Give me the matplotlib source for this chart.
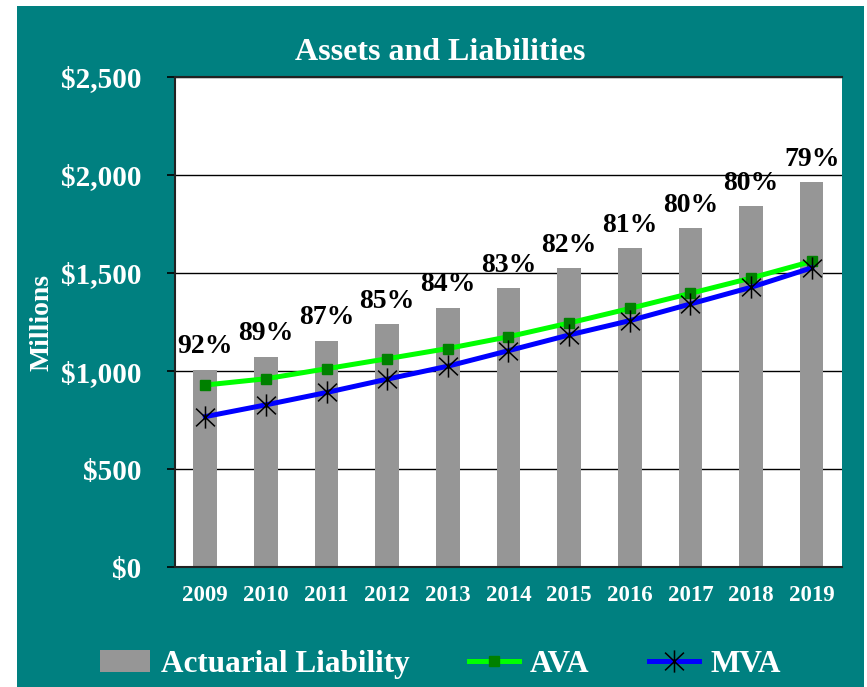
import matplotlib
matplotlib.use("Agg")
import matplotlib.pyplot as plt
import numpy as np
from matplotlib.patches import Rectangle
from matplotlib.path import Path

plt.rcParams["font.family"] = "Liberation Serif"
plt.rcParams["font.weight"] = "bold"

# Data (millions)
years = ["2009", "2010", "2011", "2012", "2013", "2014", "2015", "2016", "2017", "2018", "2019"]
liability = [1005, 1073, 1155, 1238, 1324, 1421, 1523, 1625, 1727, 1840, 1962]
ava = [929, 961, 1012, 1063, 1115, 1175, 1245, 1319, 1396, 1474, 1559]
mva = [768, 828, 891, 959, 1025, 1104, 1184, 1257, 1342, 1427, 1526]
funded = ["92%", "89%", "87%", "85%", "84%", "83%", "82%", "81%", "80%", "80%", "79%"]
y_ticks = [0, 500, 1000, 1500, 2000, 2500]

teal = "#008080"
x = np.arange(len(years))

# Excel-style asterisk: vertical stroke plus an X
star = Path([(0, -1), (0, 1), (-0.85, -0.8), (0.85, 0.8), (-0.85, 0.8), (0.85, -0.8)],
            [Path.MOVETO, Path.LINETO] * 3)

fig = plt.figure(figsize=(8.67, 6.87), dpi=100)
fig.patch.set_facecolor("white")
# teal panel behind the chart
fig.patches.append(Rectangle((0.0196, 0.0), 0.9769, 0.9913, transform=fig.transFigure,
                             facecolor=teal, edgecolor="none", zorder=-5))

ax = fig.add_axes([0.2018, 0.1742, 0.7693, 0.7141])
ax.set_facecolor("white")

b = ax.bar(x, liability, 0.39, color="#969696", label="Actuarial Liability", zorder=2)
l1, = ax.plot(x, ava, color="#00ff00", lw=3.6, marker="s", ms=7, mfc="#008000", mec="#008000",
              label="AVA", zorder=3)
l2, = ax.plot(x, mva, color="#0000ff", lw=3.6, marker=star, ms=16, mec="black", mew=1.1,
              label="MVA", zorder=4)

for xi, h, txt in zip(x, liability, funded):
    ax.annotate(txt, (xi, h), xytext=(0, 12), textcoords="offset points",
                ha="center", va="baseline", fontsize=20, color="black")

ax.set_xlim(-0.5, len(years) - 0.5)
ax.set_ylim(0, 2500)
ax.set_yticks(y_ticks)
ax.set_yticklabels(["${:,}".format(v) for v in y_ticks])
ax.set_xticks(x)
ax.set_xticklabels(years)
ax.tick_params(axis="y", labelcolor="white", labelsize=21, length=6, width=1.2, pad=18,
               color="black")
ax.tick_params(axis="x", labelcolor="white", labelsize=16.5, length=0, pad=13)
for lab in ax.get_xticklabels() + ax.get_yticklabels():
    lab.set_fontweight("bold")

ax.yaxis.grid(True, color="black", lw=1.0, zorder=1)
ax.set_axisbelow(True)
for s in ["top", "left", "bottom"]:
    ax.spines[s].set_color("#222222")
    ax.spines[s].set_linewidth(1.5)
ax.spines["right"].set_visible(False)

ax.set_ylabel("Millions", color="white", fontsize=20, fontweight="bold")
ax.yaxis.set_label_coords(-0.18, 0.5)

fig.text(0.508, 0.923, "Assets and Liabilities", ha="center", va="center",
         color="white", fontsize=23, fontweight="bold")

leg = fig.legend([b, l1, l2], ["Actuarial Liability", "AVA", "MVA"], loc="center",
                 bbox_to_anchor=(0.508, 0.033), ncol=3, frameon=False,
                 fontsize=22.5, handlelength=1.6, handletextpad=0.35, columnspacing=1.9)
for t in leg.get_texts():
    t.set_color("white")

fig.savefig("out.png", dpi=100, facecolor=fig.get_facecolor())
